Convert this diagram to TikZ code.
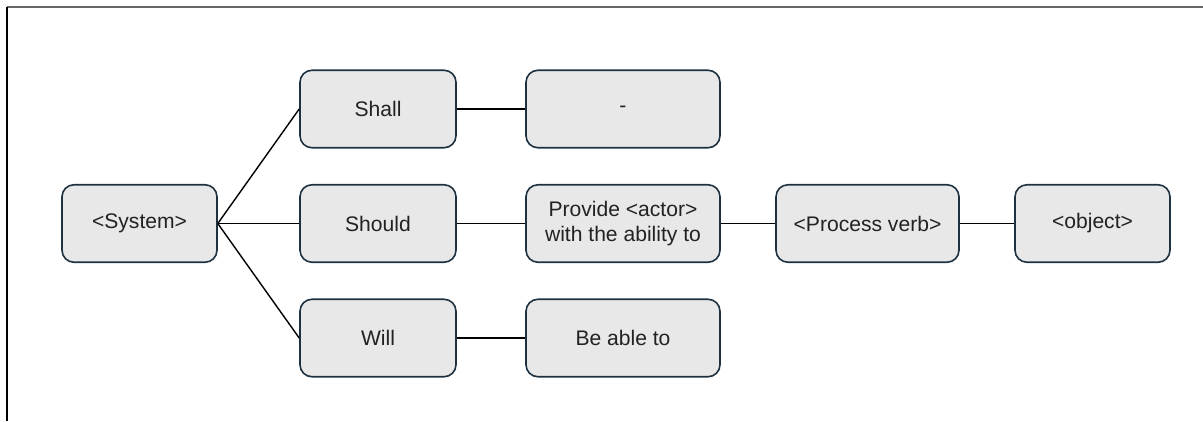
\documentclass[tikz,border=0pt]{standalone}
\usepackage{fontspec}
\setmainfont{Liberation Sans}
\definecolor{boxfill}{HTML}{E8E8E8}
\definecolor{boxline}{HTML}{1E3140}
\definecolor{inktext}{HTML}{222222}
\tikzset{
  stagebox/.style={draw=boxline, fill=boxfill, line width=0.9pt, rounded corners=0.24cm,
    minimum height=1.55cm, inner sep=0pt, align=center, text=inktext, font=\fontsize{12}{14.5}\selectfont},
  link/.style={line width=0.8pt, black}
}
\begin{document}
\begin{tikzpicture}
\useasboundingbox (0,0) rectangle (24.06,8.42);
\draw[gray!80!black, line width=1.3pt] (0.14,8.28) -- (24.06,8.28);
\draw[black, line width=0.6pt] (0.14,8.28) -- (0.14,0);
\node[stagebox, minimum width=3.1cm] (sys) at (2.79,3.95) {<System>};
\node[stagebox, minimum width=3.12cm] (shall) at (7.56,6.24) {Shall};
\node[stagebox, minimum width=3.12cm] (should) at (7.56,3.95) {Should};
\node[stagebox, minimum width=3.12cm] (will) at (7.56,1.66) {Will};
\node[stagebox, minimum width=3.88cm] (none) at (12.46,6.24) {-};
\node[stagebox, minimum width=3.88cm] (provide) at (12.46,3.95) {Provide <actor>\\with the ability to};
\node[stagebox, minimum width=3.88cm] (able) at (12.46,1.66) {Be able to};
\node[stagebox, minimum width=3.66cm] (verb) at (17.35,3.95) {<Process verb>};
\node[stagebox, minimum width=3.1cm] (obj) at (21.85,3.95) {<object>};
\draw[link] (sys.east) -- (shall.west);
\draw[link] (sys.east) -- (should.west);
\draw[link] (sys.east) -- (will.west);
\draw[link] (shall) -- (none);
\draw[link] (should) -- (provide);
\draw[link] (will) -- (able);
\draw[link] (provide) -- (verb);
\draw[link] (verb) -- (obj);
\end{tikzpicture}
\end{document}
